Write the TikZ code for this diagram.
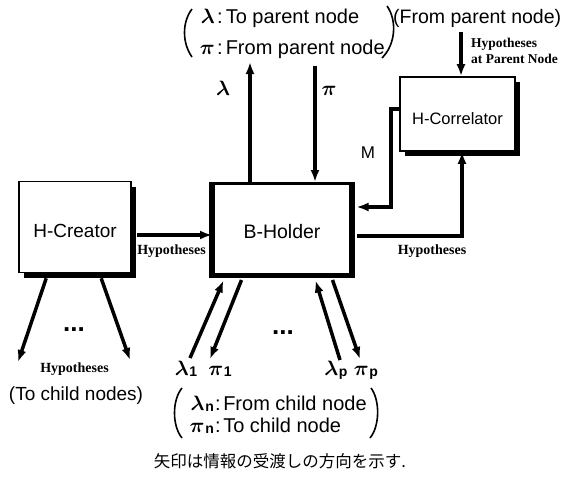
\documentclass[tikz,border=0pt]{standalone}
\usepackage{fontspec}
\setmainfont{Liberation Sans}
\newfontfamily\serifb{Liberation Serif}
\newfontfamily\cjk{Noto Sans CJK JP}
\usetikzlibrary{arrows.meta,shadows,calc}
\newcommand\gsym[1]{{\fontsize{22}{24}\selectfont\boldmath$#1$}}
\newcommand\gsub[2]{\gsym{#1}\kern0.6pt\raisebox{-1.5pt}{\fontsize{14}{14}\selectfont\bfseries #2}}
\begin{document}
\begin{tikzpicture}[x=1pt,y=-1pt,
  box/.style={draw, line width=1.6pt, fill=white, inner sep=0pt, text depth=0pt},
  shbox/.style={box, drop shadow={shadow xshift=5pt, shadow yshift=-5pt, opacity=1, fill=black}},
  arr/.style={line width=3.5pt, -{Latex[length=12pt,width=9pt]}},
  lbl/.style={font=\fontsize{20}{24}\selectfont, inner sep=0pt, anchor=base},
  hyp/.style={font=\serifb\bfseries\fontsize{14}{16}\selectfont, inner sep=0pt, anchor=base},
  dots/.style={font=\bfseries\fontsize{26}{30}\selectfont, inner sep=0pt, anchor=base},
  paren/.style={line width=1.6pt}]
\useasboundingbox[fill=white] (0,0) rectangle (567,477);

% boxes
\node[shbox, minimum width=112pt, minimum height=91pt, text height=20pt,
      font=\fontsize{19}{22}\selectfont] (hc) at (75,227) {H-Creator};
\node[box, line width=3pt, minimum width=137pt, minimum height=91pt, text height=18pt,
      font=\fontsize{19.5}{22}\selectfont] (bh) at (282,229) {B-Holder};
\fill (209,182) rectangle (215,278);
\fill (349,182) rectangle (355,278);
\fill (209,273) rectangle (355,278);
\node[shbox, minimum width=115pt, minimum height=74pt, text height=20pt,
      font=\fontsize{16.5}{20}\selectfont] (hcor) at (457.5,114) {H-Correlator};

% free ends
\coordinate (lamtop) at (250,62);
\coordinate (pitop) at (315,66);
\coordinate (hptop) at (461,32);
\coordinate (mcorner) at (391,207);
\coordinate (c1) at (18,362);
\coordinate (c2) at (130,360);
\coordinate (l1b) at (190,358);
\coordinate (p1b) at (210,359);
\coordinate (lpb) at (340,360);
\coordinate (ppb) at (360,359);

% connectors
\draw[arr] ($(hc.east)+(5,8)$) coordinate (hcA) -- (hcA -| bh.west);
\draw[arr] (lamtop |- bh.north) -- (lamtop);
\draw[arr] (pitop) -- (pitop |- bh.north);
\draw[arr] (hptop) -- (hptop |- hcor.north);
\draw[arr] ($(hcor.west)+(0,-5)$) -| (mcorner) -- ($(mcorner -| bh.east)+(4.5,0)$);
\draw[arr] ($(bh.east)+(4.5,7)$) -| ($(hcor.south)+(4.5,0)$);
\draw[arr] ($(hc.south west)+(28,5)$) -- (c1);
\draw[arr] ($(hc.south west)+(83,5)$) -- (c2);
\draw[arr] (l1b) -- ($(bh.south west)+(11.5,4.5)$);
\draw[arr] ($(bh.south west)+(29.5,4)$) -- (p1b);
\draw[arr] (lpb) -- ($(bh.south west)+(103.5,4.5)$);
\draw[arr] ($(bh.south west)+(120.5,4)$) -- (ppb);

% connector labels
\node[lbl] (laml) at (223,95) {\gsym{\lambda}};
\node[lbl] (pil) at (329,95) {\gsym{\pi}};
\node[lbl, font=\fontsize{17}{20}\selectfont] (ml) at (368,158) {M};
\node[hyp] (hyp1) at (171.5,254) {Hypotheses};
\node[hyp] (hyp2) at (432,254) {Hypotheses};
\node[hyp] (hyp3) at (74.5,372) {Hypotheses};
\node[hyp, font=\serifb\bfseries\fontsize{13.5}{16}\selectfont, anchor=base west] (hyp4a) at (471,47) {Hypotheses};
\node[hyp, font=\serifb\bfseries\fontsize{13.5}{16}\selectfont, anchor=base west] (hyp4b) at (471,63) {at Parent Node};
\node[dots] (d1) at (74,331) {...};
\node[dots] (d2) at (283,334) {...};
\node[lbl, font=\fontsize{19}{22}\selectfont] (tochild) at (76,400) {(To child nodes)};
\node[lbl] (lam1) at (186,375) {\gsub{\lambda}{1}};
\node[lbl] (pi1) at (220,375) {\gsub{\pi}{1}};
\node[lbl] (lamp) at (336,375) {\gsub{\lambda}{p}};
\node[lbl] (pip) at (366,375) {\gsub{\pi}{p}};

% top legend
\draw[paren] (192,9) .. controls (182,22) and (182,43) .. (192,57);
\draw[paren] (387,6) .. controls (397,20) and (396,44) .. (382,58);
\node[lbl, anchor=base east] (tl1s) at (215,23) {\gsym{\lambda}};
\node[lbl, anchor=base west] (tl1t) at (217,23) {:\hspace{3pt}To parent node};
\node[lbl, anchor=base east] (tl2s) at (215,54) {\gsym{\pi}};
\node[lbl, anchor=base west] (tl2t) at (217,54) {:\hspace{3pt}From parent node};
\node[lbl, font=\fontsize{19.5}{22}\selectfont, anchor=base west] (fromp) at (393,23) {(From parent node)};

% bottom legend
\draw[paren] (182,388) .. controls (172,400) and (172,426) .. (182,438);
\draw[paren] (371,388) .. controls (380,400) and (380,426) .. (370,438);
\node[lbl, anchor=base east] (bl1s) at (214,410) {\gsub{\lambda}{n}};
\node[lbl, anchor=base west] (bl1t) at (215,410) {:\hspace{2.5pt}From child node};
\node[lbl, anchor=base east] (bl2s) at (214,432) {\gsub{\pi}{n}};
\node[lbl, anchor=base west] (bl2t) at (215,432) {:\hspace{2.5pt}To child node};

% caption
\node[anchor=base, inner sep=0pt, font=\cjk\fontsize{16.5}{20}\selectfont] (cap) at (280,467) {矢印は情報の受渡しの方向を示す.};
\end{tikzpicture}
\end{document}
